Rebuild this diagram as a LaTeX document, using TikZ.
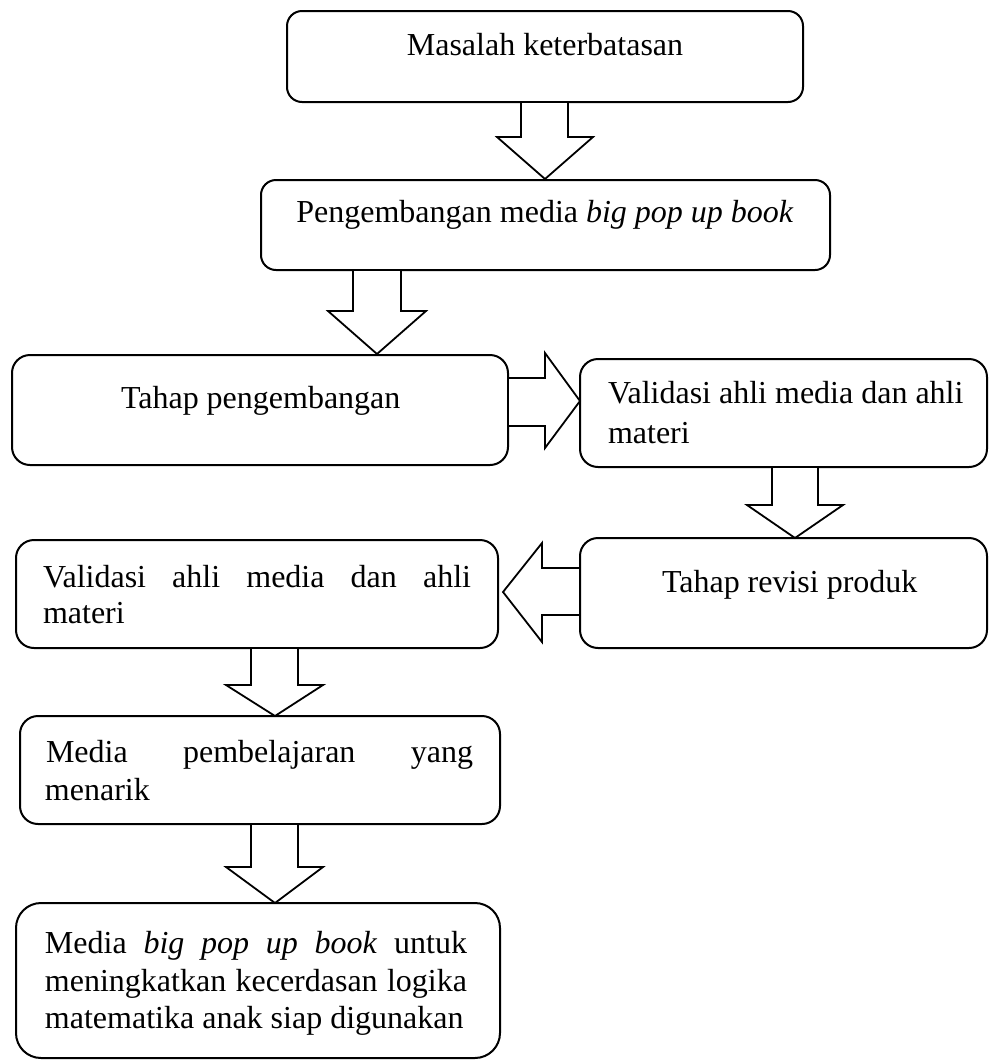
\documentclass[tikz,border=0pt]{standalone}
\usepackage{fontspec}
\setmainfont{Liberation Serif}
\begin{document}
\begin{tikzpicture}[x=1pt,y=-1pt,
  box/.style={draw, line width=2pt, rounded corners=#1, inner sep=0pt, outer sep=0pt},
  box/.default=16pt,
  txt/.style={inner sep=0pt, outer sep=0pt, font=\fontsize{32}{38}\selectfont},
  barrow/.style={draw, fill=white, line width=1.8pt, line join=miter}]
\useasboundingbox (0,0) rectangle (990,1061);

% boxes
\node[box=15pt, minimum width=516pt, minimum height=91pt] (b1) at (545,56.5) {};
\node[box=15pt, minimum width=569pt, minimum height=90pt] (b2) at (545.5,225) {};
\node[box=18pt, minimum width=496pt, minimum height=110pt] (b3) at (260,410) {};
\node[box=18pt, minimum width=407pt, minimum height=108pt] (b4) at (783.5,413) {};
\node[box=18pt, minimum width=482pt, minimum height=108pt] (b5) at (257,594) {};
\node[box=18pt, minimum width=407pt, minimum height=110pt] (b6) at (783.5,593) {};
\node[box=18pt, minimum width=480pt, minimum height=108pt] (b7) at (260,770) {};
\node[box=25pt, minimum width=484pt, minimum height=155pt] (b8) at (258,980.5) {};

% block arrows
\draw[barrow] (521,102) -- (568,102) -- (568,137) -- (593,137) -- (545,179) -- (497,137) -- (521,137) -- cycle;
\draw[barrow] (353,270) -- (401,270) -- (401,311) -- (426,311) -- (377,354) -- (328,311) -- (353,311) -- cycle;
\draw[barrow] (508,378) -- (545,378) -- (545,353) -- (580,401) -- (545,448) -- (545,426) -- (508,426) -- cycle;
\draw[barrow] (772,467) -- (818,467) -- (818,505) -- (843,505) -- (795,538) -- (747,505) -- (772,505) -- cycle;
\draw[barrow] (580,568) -- (542,568) -- (542,543) -- (503,592) -- (542,642) -- (542,615) -- (580,615) -- cycle;
\draw[barrow] (251,648) -- (298,648) -- (298,685) -- (323,685) -- (275,716) -- (226,685) -- (251,685) -- cycle;
\draw[barrow] (251,824) -- (298,824) -- (298,867) -- (323,867) -- (275,903) -- (226,867) -- (251,867) -- cycle;

% texts
\node[txt, anchor=base] (t1) at (545,55) {Masalah keterbatasan};
\node[txt, anchor=base] (t2) at (545,222) {Pengembangan media \textit{big pop up book}};
\node[txt, anchor=base west] (t3) at (121,408) {Tahap pengembangan};
\node[txt, anchor=base west] (t4a) at (608,403) {Validasi ahli media dan ahli};
\node[txt, anchor=base west] (t4b) at (608,443) {materi};
\node[txt, anchor=base west] (t5a) at (43,587) {\hbox to 428pt{Validasi\hfill ahli\hfill media\hfill dan\hfill ahli}};
\node[txt, anchor=base west] (t5b) at (43,623) {materi};
\node[txt, anchor=base west] (t6) at (662,592) {Tahap revisi produk};
\node[txt, anchor=base west] (t7a) at (46,762) {\hbox to 427pt{Media\hfill pembelajaran\hfill yang}};
\node[txt, anchor=base west] (t7b) at (45,800) {menarik};
\node[txt, anchor=base west] (t8a) at (45,953) {\hbox to 422pt{Media\hfill \textit{big}\hfill \textit{pop}\hfill \textit{up}\hfill \textit{book}\hfill untuk}};
\node[txt, anchor=base west] (t8b) at (45,991) {\hbox to 422pt{meningkatkan\hfill kecerdasan\hfill logika}};
\node[txt, anchor=base west] (t8c) at (45,1028) {matematika anak siap digunakan};
\end{tikzpicture}
\end{document}
